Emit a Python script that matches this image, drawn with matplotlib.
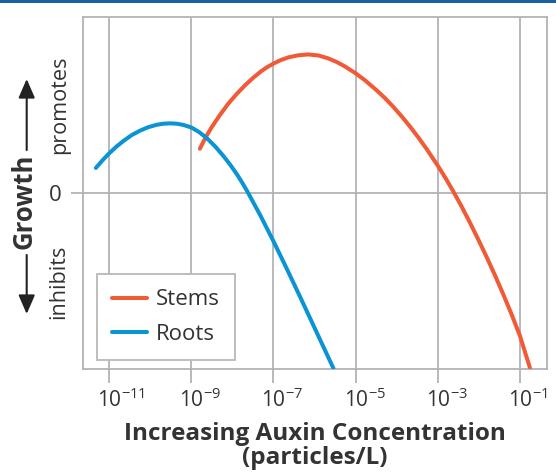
import matplotlib
matplotlib.use('Agg')
import matplotlib.pyplot as plt
from matplotlib.patches import Rectangle, FancyArrowPatch
from matplotlib.transforms import ScaledTranslation

FONT = 'Open Sans'
plt.rcParams['font.family'] = [FONT, 'DejaVu Sans']
plt.rcParams['mathtext.fontset'] = 'custom'
plt.rcParams['mathtext.rm'] = FONT
plt.rcParams['mathtext.it'] = FONT + ':italic'
plt.rcParams['mathtext.bf'] = FONT + ':bold'

# ---------------- data (log10 of auxin concentration, relative growth) ----------
series_names = ['Stems', 'Roots']
stems_log_conc = [-8.79, -8.65, -8.50, -8.30, -8.10, -7.90, -7.69, -7.49, -7.29,
                  -7.15, -7.00, -6.82, -6.64, -6.40, -6.15, -5.90, -5.66, -5.46,
                  -5.26, -5.00, -4.77, -4.49, -4.28, -4.08, -3.88, -3.68, -3.47,
                  -3.27, -3.00, -2.81, -2.62, -2.42, -2.22, -2.01, -1.81, -1.61,
                  -1.41, -1.20, -1.00, -0.76]
stems_growth = [0.251, 0.315, 0.374, 0.443, 0.506, 0.560, 0.611, 0.654, 0.692,
                0.714, 0.734, 0.754, 0.769, 0.781, 0.786, 0.780, 0.763, 0.743,
                0.718, 0.679, 0.639, 0.583, 0.537, 0.488, 0.435, 0.378, 0.314,
                0.249, 0.155, 0.084, 0.008, -0.077, -0.167, -0.266, -0.364, -0.466,
                -0.573, -0.691, -0.811, -0.990]
roots_log_conc = [-11.32, -11.16, -11.00, -10.82, -10.65, -10.45, -10.25, -10.05,
                  -9.84, -9.68, -9.52, -9.35, -9.19, -9.00, -8.81, -8.62, -8.42,
                  -8.22, -8.05, -7.89, -7.76, -7.63, -7.32, -7.00, -6.68, -6.35,
                  -5.95, -5.54]
roots_growth = [0.142, 0.185, 0.224, 0.263, 0.295, 0.328, 0.353, 0.373,
                0.387, 0.393, 0.395, 0.393, 0.386, 0.372, 0.346, 0.311, 0.265,
                0.211, 0.160, 0.107, 0.059, 0.007, -0.126, -0.273, -0.427, -0.589,
                -0.789, -0.994]
tick_exponents = [-11, -9, -7, -5, -3, -1]
y_tick_values = [0]
y_tick_labels = ['0']
x_label = 'Increasing Auxin Concentration\n(particles/L)'

# ---------------- style ----------------
W, H = 556, 472
RED = '#f15a36'
BLUE = '#0b94d3'
GRID = '#b3b3b7'
TXT = '#333333'

def px(x, y):
    return (x / W, 1 - y / H)

fig = plt.figure(figsize=(W / 100, H / 100), dpi=100)
ax_left, ax_right, ax_top, ax_bot = 82.7, 546.7, 16.7, 369.3
ax = fig.add_axes([ax_left / W, (H - ax_bot) / H, (ax_right - ax_left) / W, (ax_bot - ax_top) / H])

ax.set_xscale('log')
stems_x = [10.0 ** v for v in stems_log_conc]
roots_x = [10.0 ** v for v in roots_log_conc]
ax.plot(stems_x, stems_growth, color=RED, lw=2.9, solid_capstyle='round',
        solid_joinstyle='round', label=series_names[0], zorder=3)
ax.plot(roots_x, roots_growth, color=BLUE, lw=2.9, solid_capstyle='round',
        solid_joinstyle='round', label=series_names[1], zorder=3)

ax.set_xlim(10.0 ** -11.64, 10.0 ** -0.35)
ax.set_ylim(-1.0, 1.0)
ax.set_xticks([10.0 ** e for e in tick_exponents])
ax.set_xticklabels([r'$\mathregular{10^{%d}}$' % e for e in tick_exponents])
ax.minorticks_off()
ax.set_yticks(y_tick_values)
ax.set_yticklabels(y_tick_labels)

ax.grid(True, color=GRID, lw=1.3, zorder=0)
for s in ax.spines.values():
    s.set_color(GRID)
    s.set_linewidth(1.3)
ax.tick_params(axis='x', length=10, width=1.3, color=GRID, pad=3.5, labelsize=15, labelcolor=TXT)
ax.tick_params(axis='y', length=9, width=1.3, color=GRID, pad=6, labelsize=16, labelcolor=TXT)

# the "10" of each label sits centred on its tick, the exponent hangs to the right
shift = ScaledTranslation(-0.12, 0, fig.dpi_scale_trans)
for lab in ax.get_xticklabels():
    lab.set_horizontalalignment('left')
    lab.set_transform(lab.get_transform() + shift)

leg = ax.legend(loc='lower left', bbox_to_anchor=(0.030, 0.0255), borderaxespad=0,
                frameon=True, fancybox=False, edgecolor='#b8b8b8', framealpha=1,
                fontsize=16, handlelength=1.55, handletextpad=0.4, labelspacing=0.6,
                borderpad=0.7)
leg.get_frame().set_linewidth(1.3)
for t in leg.get_texts():
    t.set_color(TXT)

# x label
fig.text(*px(315, 446), x_label, ha='center', va='center', fontsize=17.5,
         fontweight='bold', color=TXT, linespacing=0.95)

# y annotations
fig.text(*px(60, 105), 'promotes', rotation=90, ha='center', va='center', fontsize=15.6, color=TXT)
fig.text(*px(59, 282), 'inhibits', rotation=90, ha='center', va='center', fontsize=15.6, color=TXT)
fig.text(*px(24, 201), 'Growth', rotation=90, ha='center', va='center', fontsize=18.5,
         fontweight='bold', color=TXT)
for (a, b) in [((26.7, 150), (26.7, 79)), ((26.7, 255), (26.7, 314))]:
    fig.add_artist(FancyArrowPatch(px(*a), px(*b), transform=fig.transFigure,
                                   arrowstyle='-|>,head_length=1.15,head_width=0.5',
                                   mutation_scale=10, lw=1.5, color='#222222',
                                   shrinkA=0, shrinkB=0))

# top rule
fig.add_artist(Rectangle((0, 1 - 2.7 / H), 1, 2.7 / H, transform=fig.transFigure,
                         color='#1b5ea6', lw=0))

fig.savefig('out.png', dpi=100)
